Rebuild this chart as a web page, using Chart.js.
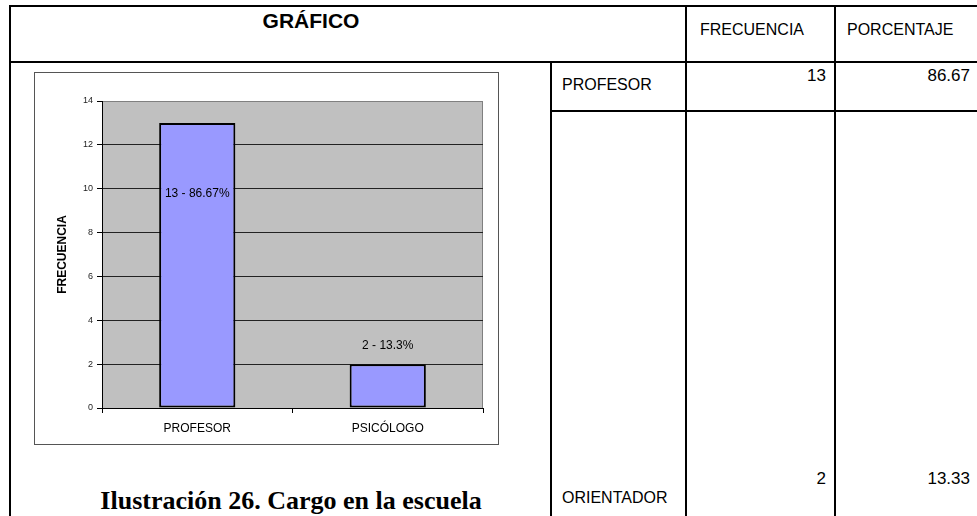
<!DOCTYPE html>
<html>
<head>
<meta charset="utf-8">
<script src="https://cdn.jsdelivr.net/npm/chart.js@4"></script>
<style>
  body { margin: 0; width: 977px; height: 516px; overflow: hidden; background: #fff;
         font-family: "Liberation Sans", Arial, sans-serif; position: relative; }
  .ln { position: absolute; background: #000; }
  .tx { position: absolute; white-space: nowrap; color: #000; line-height: 1; }
  #chartBox { position: absolute; left: 34px; top: 72px; width: 463px; height: 371px;
              border: 1px solid #555; background: #fff; }
  #caption { position: absolute; left: 31px; width: 520px; top: 486px; text-align: center;
             font-family: "Liberation Serif", "Times New Roman", serif; font-weight: bold; font-size: 26px; }
</style>
</head>
<body>
<!-- table lines -->
<div class="ln" style="left:9px;top:5px;width:968px;height:2px"></div>
<div class="ln" style="left:9px;top:5px;width:2px;height:511px"></div>
<div class="ln" style="left:9px;top:61px;width:968px;height:2px"></div>
<div class="ln" style="left:550px;top:61px;width:2px;height:455px"></div>
<div class="ln" style="left:685px;top:5px;width:2px;height:511px"></div>
<div class="ln" style="left:834px;top:5px;width:2px;height:511px"></div>
<div class="ln" style="left:550px;top:110px;width:427px;height:2px"></div>

<div class="tx" style="left:200px;width:222px;top:10px;text-align:center;font-weight:bold;font-size:21px">GRÁFICO</div>
<div id="headFreq" class="tx" style="left:700px;top:22px;font-size:16px"></div>
<div id="headPct" class="tx" style="left:847px;top:22px;font-size:16px"></div>
<div id="rows"></div>

<div id="chartBox"><canvas id="cargoChart"></canvas></div>
<div id="caption">Ilustración 26. Cargo en la escuela</div>

<script>
// chart data
const categories = ['PROFESOR', 'PSICÓLOGO'];
const frequencies = [13, 2];
const pctLabels = ['86.67', '13.3'];
const yTicks = [0, 2, 4, 6, 8, 10, 12, 14];

// table data
const tableHeaders = ['FRECUENCIA', 'PORCENTAJE'];
const tableRows = ['PROFESOR', 'ORIENTADOR'];
const tableFreq = [13, 2];
const tablePct = ['86.67', '13.33'];

document.getElementById('headFreq').textContent = tableHeaders[0];
document.getElementById('headPct').textContent = tableHeaders[1];

const rowTops = [77, 490];
const rows = document.getElementById('rows');
tableRows.forEach((name, i) => {
    const top = rowTops[i];
    const numTop = i === 0 ? top - 10 : top - 20;
    rows.innerHTML += `
        <div class="tx" style="left:562px;top:${top}px;font-size:16px">${name}</div>
        <div class="tx" style="right:${977 - 826}px;top:${numTop}px;font-size:17px">${tableFreq[i]}</div>
        <div class="tx" style="right:${977 - 970}px;top:${numTop}px;font-size:17px">${tablePct[i]}</div>
    `;
});

// plot background and border
const plotBack = {
    id: 'plotBack',
    beforeDraw(chart) {
        const { ctx, chartArea: a } = chart;
        ctx.save();
        ctx.fillStyle = '#C0C0C0';
        ctx.fillRect(a.left, a.top, a.right - a.left, a.bottom - a.top);
        ctx.strokeStyle = '#808080';
        ctx.lineWidth = 1;
        ctx.strokeRect(a.left + 0.5, a.top + 0.5, a.right - a.left - 1, a.bottom - a.top);
        ctx.restore();
    }
};

// value labels like "13 - 86.67%"
const barLabels = {
    id: 'barLabels',
    afterDatasetsDraw(chart) {
        const { ctx } = chart;
        const meta = chart.getDatasetMeta(0);
        ctx.save();
        ctx.font = '12px "Liberation Sans", Arial, sans-serif';
        ctx.fillStyle = '#000';
        ctx.textAlign = 'center';
        ctx.textBaseline = 'middle';
        meta.data.forEach((bar, i) => {
            const h = bar.base - bar.y;
            const y = h > 100 ? bar.y + 71 : bar.y - 18;
            ctx.fillText(frequencies[i] + ' - ' + pctLabels[i] + '%', bar.x, y);
        });
        ctx.restore();
    }
};

Chart.defaults.font.family = '"Liberation Sans", Arial, sans-serif';
Chart.defaults.color = '#000';

new Chart(document.getElementById('cargoChart'), {
    type: 'bar',
    data: {
        labels: categories,
        datasets: [{
            data: frequencies,
            backgroundColor: '#9999FF',
            borderColor: '#000',
            borderWidth: 2,
            borderSkipped: false,
            categoryPercentage: 1,
            barPercentage: 0.4
        }]
    },
    options: {
        responsive: true,
        maintainAspectRatio: false,
        animation: false,
        layout: { padding: { left: 0, top: 28, right: 15, bottom: 0 } },
        plugins: { legend: { display: false }, tooltip: { enabled: false } },
        scales: {
            x: {
                grid: { offset: true, drawOnChartArea: false, tickLength: 5, tickColor: '#000' },
                border: { color: '#000', width: 1 },
                ticks: { padding: 8, font: { size: 12 }, color: '#000' },
                afterFit(scale) { scale.height = 36; }
            },
            y: {
                min: 0,
                max: 14,
                afterBuildTicks(scale) { scale.ticks = yTicks.map(v => ({ value: v })); },
                grid: {
                    color: ctx => ctx.tick && ctx.tick.value === 14 ? '#808080' : '#222',
                    tickColor: '#000',
                    tickLength: 5
                },
                border: { color: '#000', width: 1 },
                ticks: { padding: 4, font: { size: 9 }, color: '#222' },
                title: { display: true, text: 'FRECUENCIA', font: { size: 12, weight: 'bold' }, padding: { top: 20 } },
                afterFit(scale) { scale.width = 67; }
            }
        }
    },
    plugins: [plotBack, barLabels]
});
</script>
</body>
</html>
